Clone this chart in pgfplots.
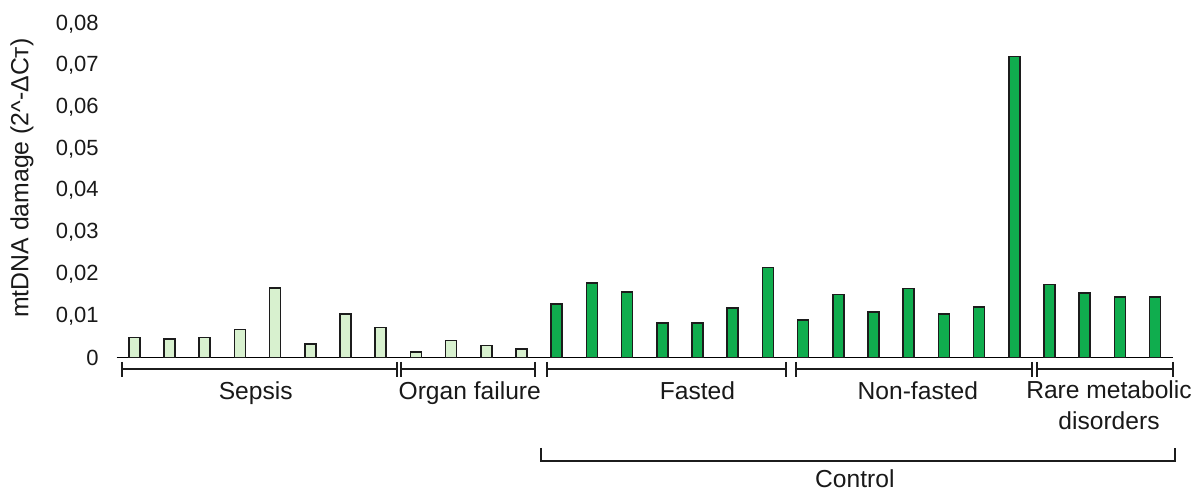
\documentclass[border=0pt]{standalone}
\usepackage{pgfplots}
\pgfplotsset{compat=1.18}
\usepackage{fontspec}
\setmainfont{Liberation Sans}

\definecolor{lightbar}{RGB}{216,241,207}
\definecolor{darkbar}{RGB}{16,173,78}
\definecolor{baroutline}{RGB}{28,28,28}
\definecolor{baseline}{RGB}{215,215,215}
\definecolor{labeltext}{RGB}{25,25,25}

\begin{document}
\begin{tikzpicture}
\useasboundingbox (0,0) rectangle (597.5pt,245pt);
\begin{axis}[
  at={(58.35pt,66.25pt)}, anchor=south west,
  scale only axis,
  width=528pt, height=166.8pt,
  xmin=0.5, xmax=30.5,
  ymin=0, ymax=0.08,
  clip=false,
  axis line style={draw=none},
  xtick=\empty,
  ytick={0,0.01,0.02,0.03,0.04,0.05,0.06,0.07,0.08},
  scaled y ticks=false,
  major tick length=0pt,
  /pgf/number format/use comma,
  /pgf/number format/fixed,
  /pgf/number format/precision=2,
  /pgf/number format/assume math mode=true,
  yticklabel style={
    font=\fontsize{11}{13}\selectfont, text=labeltext,
    anchor=east, inner sep=0pt, xshift=-8.8pt},
  every axis y label/.style={
    at={(axis description cs:-0.0897,0.538)}, rotate=90, anchor=center,
    font=\fontsize{12.4}{14}\selectfont, text=labeltext},
  ylabel={mtDNA damage (2\^{}-ΔCт)},
  ybar, bar width=0.31,
]
% zero line
\draw[baseline, line width=0.8pt] (axis cs:0.5,0) -- (axis cs:30.5,0);

% patient groups: sepsis and organ failure
\addplot[bar shift=0pt, fill=lightbar, draw=baroutline, line width=0.8pt]
  coordinates {
    (1,0.0048) (2,0.0045) (3,0.0048) (4,0.0067) (5,0.0167) (6,0.0033)
    (7,0.0104) (8,0.0072)
    (9,0.0013) (10,0.0041) (11,0.0029) (12,0.0021)
  };
% control groups: fasted, non-fasted, rare metabolic disorders
\addplot[bar shift=0pt, fill=darkbar, draw=baroutline, line width=0.8pt]
  coordinates {
    (13,0.0128) (14,0.0178) (15,0.0157) (16,0.0082) (17,0.0082) (18,0.0118)
    (19,0.0216)
    (20,0.0090) (21,0.0151) (22,0.0109) (23,0.0165) (24,0.0104) (25,0.0121)
    (26,0.0722)
    (27,0.0175) (28,0.0155) (29,0.0145) (30,0.0145)
  };

% group brackets
\begin{scope}[baroutline, line width=1pt]
\draw (axis cs:0.642,-0.00276) -- (axis cs:8.455,-0.00276);
\draw (axis cs:0.642,-0.00108) -- (axis cs:0.642,-0.00468);
\draw (axis cs:8.455,-0.00108) -- (axis cs:8.455,-0.00468);

\draw (axis cs:8.577,-0.00276) -- (axis cs:12.384,-0.00276);
\draw (axis cs:8.577,-0.00108) -- (axis cs:8.577,-0.00468);
\draw (axis cs:12.384,-0.00108) -- (axis cs:12.384,-0.00468);

\draw (axis cs:12.716,-0.00276) -- (axis cs:19.528,-0.00276);
\draw (axis cs:12.716,-0.00108) -- (axis cs:12.716,-0.00468);
\draw (axis cs:19.528,-0.00108) -- (axis cs:19.528,-0.00468);

\draw (axis cs:19.784,-0.00276) -- (axis cs:26.494,-0.00276);
\draw (axis cs:19.784,-0.00108) -- (axis cs:19.784,-0.00468);
\draw (axis cs:26.494,-0.00108) -- (axis cs:26.494,-0.00468);

\draw (axis cs:26.636,-0.00276) -- (axis cs:30.5,-0.00276);
\draw (axis cs:26.636,-0.00108) -- (axis cs:26.636,-0.00468);
\draw (axis cs:30.5,-0.00108) -- (axis cs:30.5,-0.00468);

% control bracket
\draw (axis cs:12.554,-0.0217) -- (axis cs:12.554,-0.02475)
  -- (axis cs:30.566,-0.02475) -- (axis cs:30.566,-0.0217);
\end{scope}

% group names
\begin{scope}[every node/.style={anchor=base, inner sep=0pt,
    font=\fontsize{12.3}{14}\selectfont, text=labeltext}]
\node at (axis cs:4.45,-0.01019) {Sepsis};
\node at (axis cs:10.53,-0.01019) {Organ failure};
\node at (axis cs:17.0,-0.01019) {Fasted};
\node at (axis cs:23.26,-0.01019) {Non-fasted};
\node at (axis cs:28.69,-0.00995) {Rare metabolic};
\node at (axis cs:28.69,-0.01715) {disorders};
\node at (axis cs:21.47,-0.03106) {Control};
\end{scope}
\end{axis}
\end{tikzpicture}
\end{document}
